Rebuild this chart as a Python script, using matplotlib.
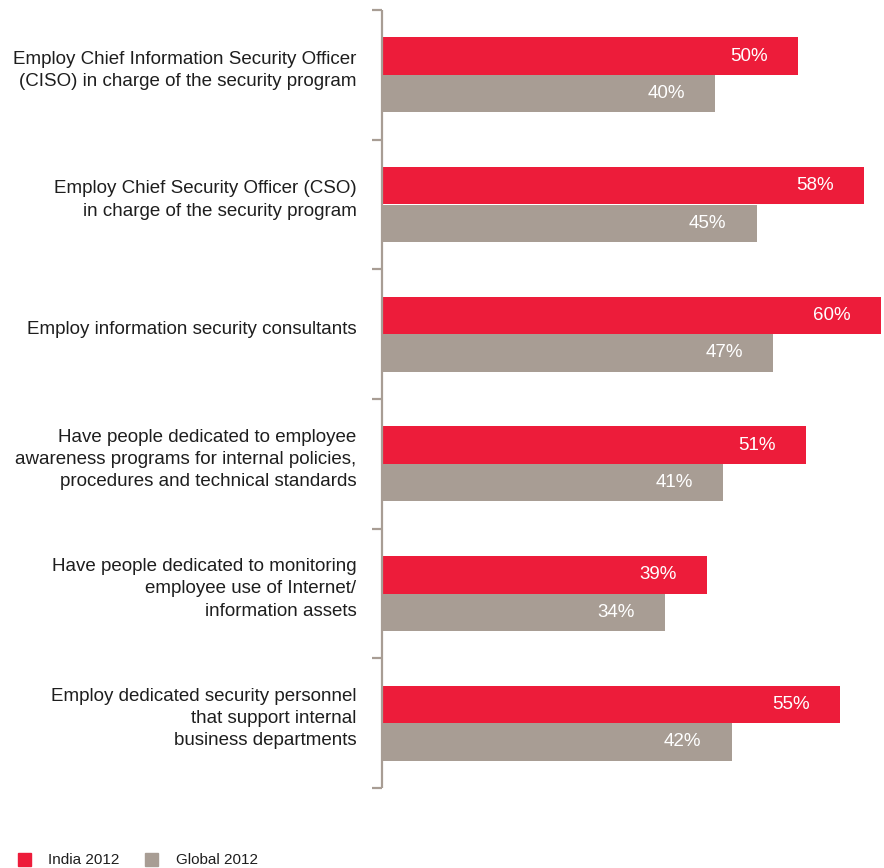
import matplotlib
matplotlib.use("Agg")
import matplotlib.pyplot as plt
from matplotlib.patches import Rectangle

categories = [
    "Employ Chief Information Security Officer\n(CISO) in charge of the security program",
    "Employ Chief Security Officer (CSO)\nin charge of the security program",
    "Employ information security consultants",
    "Have people dedicated to employee\nawareness programs for internal policies,\nprocedures and technical standards",
    "Have people dedicated to monitoring\nemployee use of Internet/\ninformation assets",
    "Employ dedicated security personnel\nthat support internal\nbusiness departments",
]
india_2012 = [50, 58, 60, 51, 39, 55]
global_2012 = [40, 45, 47, 41, 34, 42]
series_names = ["India 2012", "Global 2012"]

RED = "#ED1C3A"
GRAY = "#A89D94"
TEXT = "#1E1E1E"

plt.rcParams["font.family"] = ["Liberation Sans", "DejaVu Sans"]

W, H = 884, 868
fig = plt.figure(figsize=(W / 100, H / 100), dpi=100)
left_px, right_px, top_px, bottom_px = 383, 884, 10, 788
ax = fig.add_axes([left_px / W, 1 - bottom_px / H, (right_px - left_px) / W, (bottom_px - top_px) / H])

n = len(categories)
ax.set_xlim(0, 60 * (right_px - left_px) / 498)
ax.set_ylim(n, 0)
bar_h = 0.288

for i, (a, b) in enumerate(zip(india_2012, global_2012)):
    c = i + 0.5
    ax.barh(c - bar_h / 2, a, height=bar_h, color=RED, edgecolor="none")
    ax.barh(c + bar_h / 2, b, height=bar_h, color=GRAY, edgecolor="none")
    ax.text(a - 5.9, c - bar_h / 2, f"{a}%", color="white", fontsize=13.5,
            ha="center", va="center")
    ax.text(b - 5.9, c + bar_h / 2, f"{b}%", color="white", fontsize=13.5,
            ha="center", va="center")
    ax.text(-3.2, c - 0.035, categories[i], color=TEXT, fontsize=13.5, ha="right",
            va="center", linespacing=1.4)

for s in ax.spines.values():
    s.set_visible(False)
ax.set_xticks([])
ax.set_yticks([])

# bracket-style axis on the left
ax.plot([-0.15, -0.15], [0, n], color=GRAY, lw=1.6, clip_on=False,
        solid_capstyle="butt")
for k in range(n + 1):
    ax.plot([-1.35, -0.15], [k, k], color=GRAY, lw=1.6, clip_on=False,
            solid_capstyle="butt")

# legend
fig.patches.append(Rectangle((18 / W, 1 - 866 / H), 13 / W, 13 / H,
                             transform=fig.transFigure, color=RED))
fig.text(48 / W, 1 - 859.5 / H, series_names[0], color=TEXT, fontsize=11, va="center")
fig.patches.append(Rectangle((145 / W, 1 - 866 / H), 13 / W, 13 / H,
                             transform=fig.transFigure, color=GRAY))
fig.text(176 / W, 1 - 859.5 / H, series_names[1], color=TEXT, fontsize=11, va="center")

fig.savefig("out.png", dpi=100)
